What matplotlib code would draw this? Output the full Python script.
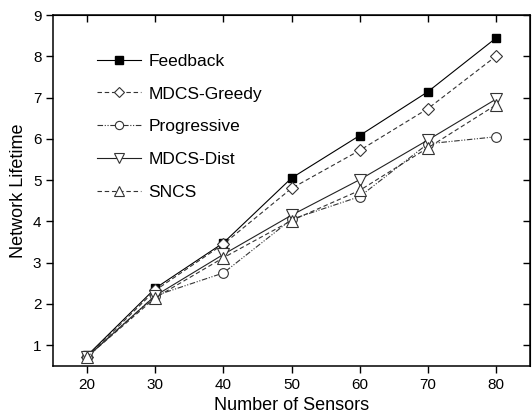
import matplotlib
matplotlib.use('Agg')
import matplotlib.pyplot as plt

# data
sensors = [20, 30, 40, 50, 60, 70, 80]
feedback = [0.75, 2.38, 3.48, 5.05, 6.08, 7.14, 8.44]
mdcs_greedy = [0.72, 2.33, 3.45, 4.80, 5.72, 6.73, 8.00]
progressive = [0.72, 2.20, 2.75, 4.05, 4.60, 5.88, 6.05]
mdcs_dist = [0.72, 2.20, 3.20, 4.15, 5.01, 5.97, 6.96]
sncs = [0.72, 2.15, 3.12, 4.02, 4.75, 5.78, 6.82]

plt.rcParams['font.family'] = ['Liberation Sans', 'DejaVu Sans']

fig = plt.figure(figsize=(5.32, 4.19), dpi=100)
ax = fig.add_axes([0.1, 0.127, 0.896, 0.837])

lw = 0.8
ax.plot(sensors, feedback, color='black', lw=lw, ls='-', marker='s', ms=6,
        mfc='black', mec='black', label='Feedback')
ax.plot(sensors, mdcs_greedy, color='#333333', lw=lw, ls=(0, (4, 2.5)), marker='D', ms=6,
        mfc='white', mec='#333333', mew=0.8, label='MDCS-Greedy')
ax.plot(sensors, progressive, color='#333333', lw=lw, ls=(0, (5, 1.5, 1, 1.5, 1, 1.5)), marker='o', ms=7,
        mfc='white', mec='#333333', mew=0.8, label='Progressive')
ax.plot(sensors, mdcs_dist, color='#222222', lw=lw, ls='-', marker='v', ms=8,
        mfc='white', mec='#333333', mew=0.8, label='MDCS-Dist')
ax.plot(sensors, sncs, color='#333333', lw=lw, ls=(0, (4, 2.5)), marker='^', ms=8,
        mfc='white', mec='#333333', mew=0.8, label='SNCS')

ax.set_xlim(15, 85)
ax.set_ylim(0.5, 9)
ax.set_xticks(sensors)
ax.set_yticks(range(1, 10))
ax.tick_params(axis='both', which='both', labelsize=11, direction='out', length=5, width=1)
ax.tick_params(top=False, right=False)

# inward mirror ticks on top and right
sec_x = ax.secondary_xaxis('top')
sec_x.set_xticks(sensors)
sec_x.tick_params(direction='in', length=5, width=1, labeltop=False)
sec_y = ax.secondary_yaxis('right')
sec_y.set_yticks(range(1, 10))
sec_y.tick_params(direction='in', length=5, width=1, labelright=False)

for s in ax.spines.values():
    s.set_linewidth(1.1)

ax.set_xlabel('Number of Sensors', fontsize=13, labelpad=4)
ax.set_ylabel('Network Lifetime', fontsize=13, labelpad=4)

leg = ax.legend(loc='upper left', bbox_to_anchor=(0.06, 0.935), frameon=False, fontsize=12.5,
                handlelength=2.5, handletextpad=0.45, labelspacing=1.02, markerscale=0.85)

fig.savefig('out.png', dpi=100)
